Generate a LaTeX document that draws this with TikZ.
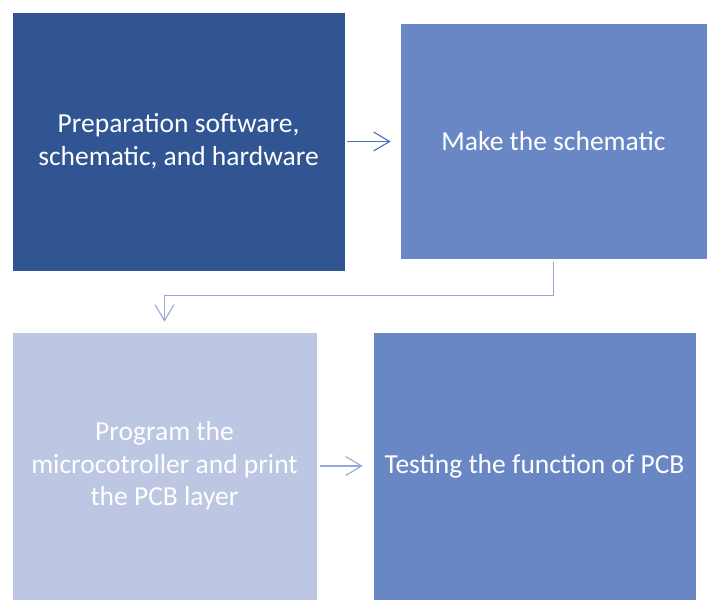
\documentclass[tikz,border=0pt]{standalone}
\usepackage{fontspec}
\setmainfont{Carlito}
\usepackage{xcolor}
\usepackage{tikz}
\usetikzlibrary{arrows.meta,positioning}

\definecolor{darkblue}{HTML}{305592}
\definecolor{midblue}{HTML}{6A87C5}
\definecolor{paleblue}{HTML}{BDC6E2}
\definecolor{arrowdark}{HTML}{4A6EBE}
\definecolor{arrowpale}{HTML}{95A8D8}

\begin{document}
\begin{tikzpicture}[x=1pt, y=1pt,
    stepbox/.style={draw=white, line width=0.6pt, inner sep=0pt, align=center,
        text=white, font=\fontsize{27.5}{32.5}\selectfont},
    flow/.style={line width=1.1pt, -{Straight Barb[length=16pt,width=19pt,line width=1.1pt]}}]
    \useasboundingbox (0,0) rectangle (712,600);
    \node[stepbox, fill=darkblue, minimum width=333pt, minimum height=259pt]
        (prep) at (178.5,458.5) {Preparation software,\\schematic, and hardware};
    \node[stepbox, fill=midblue, minimum width=307pt, minimum height=236pt]
        (schem) at (553.5,459) {Make the schematic};
    \node[stepbox, fill=paleblue, minimum width=305pt, minimum height=268pt]
        (prog) at (164.5,134) {Program the\\microcotroller and print\\the PCB layer};
    \node[stepbox, fill=midblue, minimum width=323pt, minimum height=268pt]
        (test) at (534.5,134) {Testing the function of PCB};
    \draw[flow, draw=arrowdark, shorten <=2pt, shorten >=9pt]
        (prep.east) -- (prep.east -| schem.west);
    \draw[flow, draw=arrowpale, shorten <=3pt, shorten >=10pt]
        (schem.south) -- ++(0,-36.5) -| (prog.north);
    \draw[flow, draw=arrowpale, shorten <=3pt, shorten >=10pt]
        (prog.east) -- (prog.east -| test.west);
\end{tikzpicture}
\end{document}
